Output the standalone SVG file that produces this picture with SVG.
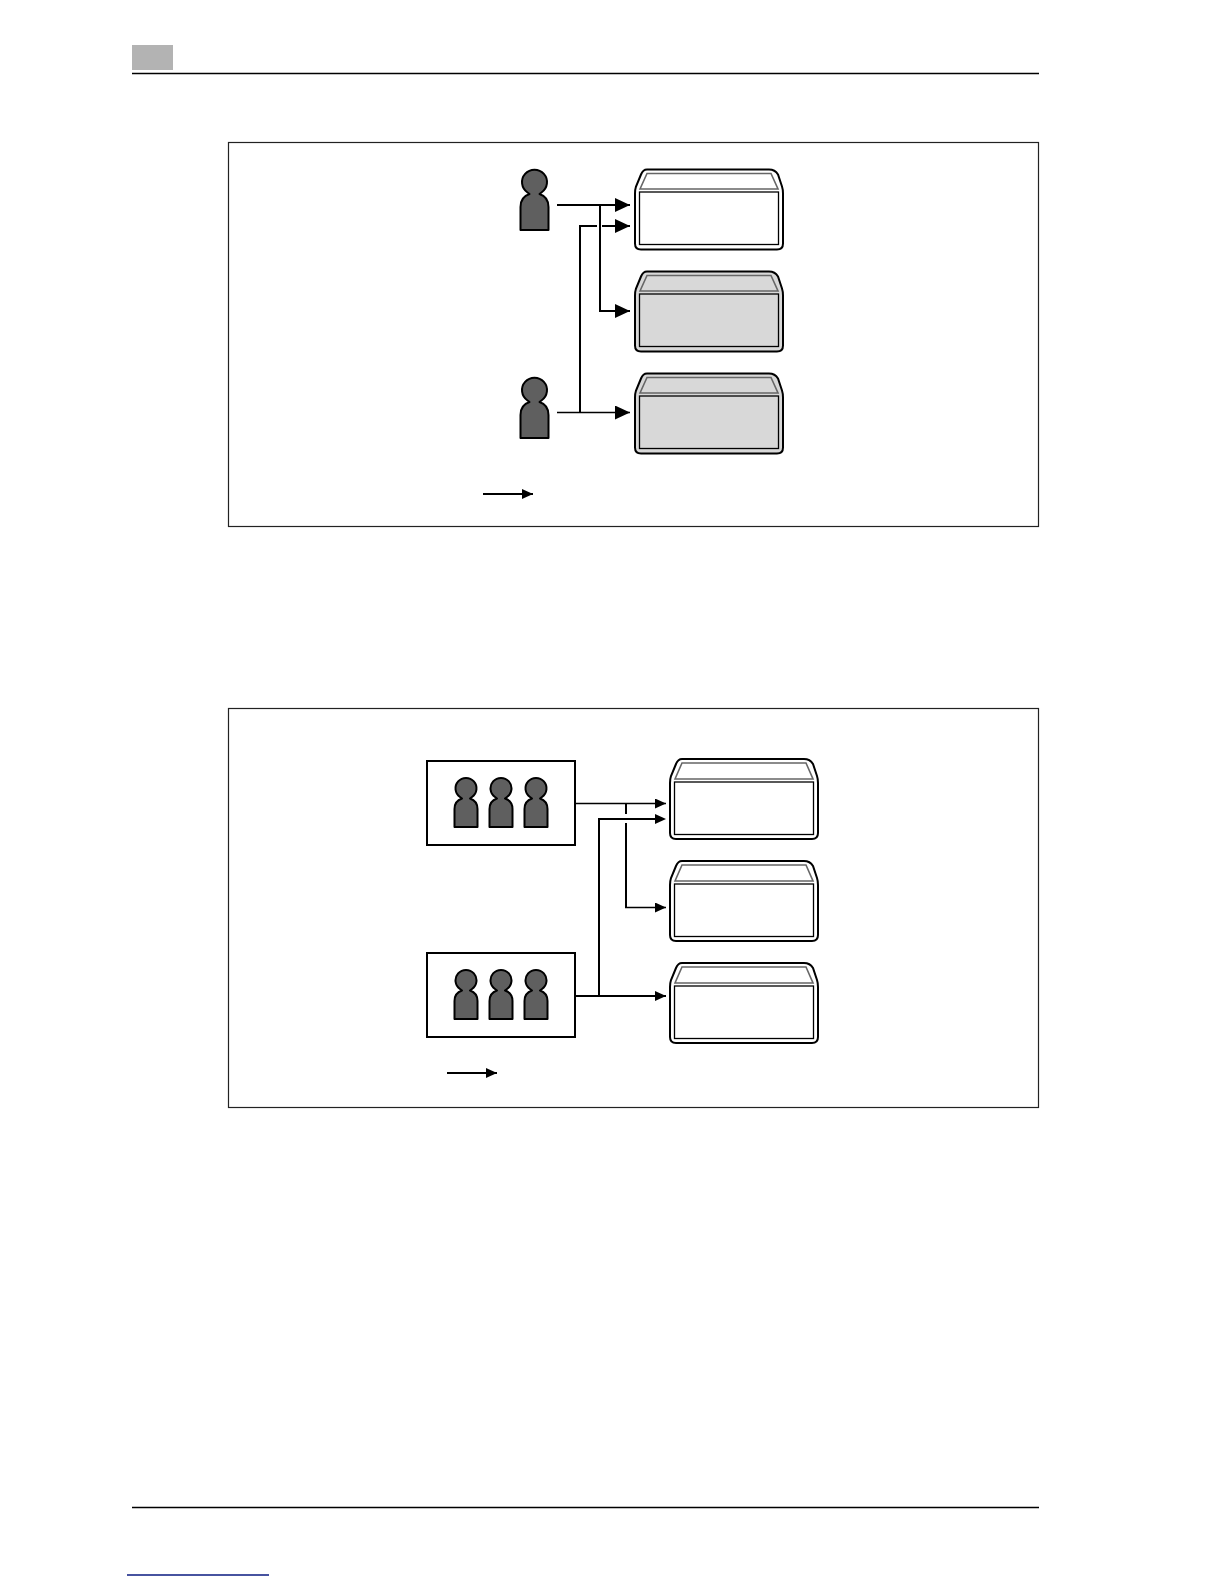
<svg xmlns="http://www.w3.org/2000/svg" width="1224" height="1584" viewBox="0 0 1224 1584">
<style>
.frame{fill:#fff;stroke:#222;stroke-width:1.2}
.rule{stroke:#000;stroke-width:1.4;fill:none}
.person{fill:#5f5f5f;stroke:#000;stroke-width:2;stroke-linejoin:round}
.shell{stroke:#000;stroke-width:2}
.lid{fill:none;stroke:#666;stroke-width:1.6}
.tray{stroke:#000;stroke-width:1.3}
.white{fill:#fff}
.grey{fill:#d8d8d8}
.c1{fill:none;stroke:#000;stroke-width:1.3}
.c2{fill:none;stroke:#000;stroke-width:2}
.group{fill:#fff;stroke:#000;stroke-width:2}
</style>
<defs>
<marker id="ah" markerUnits="userSpaceOnUse" markerWidth="15" markerHeight="14" refX="15" refY="7" orient="auto"><path d="M0 0L15 7L0 14Z" fill="#000"/></marker>
<marker id="as" markerUnits="userSpaceOnUse" markerWidth="11" markerHeight="10" refX="11" refY="5" orient="auto"><path d="M0 0L11 5L0 10Z" fill="#000"/></marker>
<g id="person-l"><path class="person" d="M-7 -37.500A12.500 12.500 0 1 1 7 -37.500Q5 -36 5 -36Q14 -33 14 -23V0H-14V-23Q-14 -33 -5 -36Q-5 -36 -7 -37.500Z"/></g>
<g id="person-s"><path class="person" d="M-6 -30A10.500 10.500 0 1 1 6 -30Q4 -28.500 4 -28.500Q11.500 -26 11.500 -18V0H-11.500V-18Q-11.500 -26 -4 -28.500Q-4 -28.500 -6 -30Z"/></g>
<path id="outer" d="M12 0H134Q140 0 143 5L147 17Q148 20 148 24V74Q148 80 142 80H6Q0 80 0 74V24Q0 20 1 17L6 5Q8 0 12 0Z"/>
</defs>
<rect x="132" y="45" width="41" height="25" fill="#b3b3b3"/>
<path class="rule" d="M132 73.500H1039M132 1507.500H1039"/>
<path d="M127 1575H269" stroke="#0a1a80" stroke-width="1.4"/>
<rect class="frame" x="228.500" y="142.500" width="810" height="384"/>
<rect class="frame" x="228.500" y="708.500" width="810" height="399"/>
<g id="person-1"><use href="#person-l" x="534.500" y="230"/></g>
<g id="person-2"><use href="#person-l" x="534.500" y="438"/></g>
<g id="box-1"><use href="#outer" x="635" y="169.500" class="shell white"/><path class="lid" d="M640 189L647 173.500H771L778 189Z"/><rect class="tray white" x="639.500" y="192" width="139" height="52.500"/></g>
<g id="box-2"><use href="#outer" x="635" y="271.500" class="shell grey"/><path class="lid" d="M640 291L647 275.500H771L778 291Z"/><rect class="tray grey" x="639.500" y="294" width="139" height="52.500"/></g>
<g id="box-3"><use href="#outer" x="635" y="373.500" class="shell grey"/><path class="lid" d="M640 393L647 377.500H771L778 393Z"/><rect class="tray grey" x="639.500" y="396" width="139" height="52.500"/></g>
<g id="group-1"><rect class="group" x="427" y="761" width="148" height="84"/><use href="#person-s" x="466" y="827"/><use href="#person-s" x="501" y="827"/><use href="#person-s" x="536" y="827"/></g>
<g id="group-2"><rect class="group" x="427" y="953" width="148" height="84"/><use href="#person-s" x="466" y="1019"/><use href="#person-s" x="501" y="1019"/><use href="#person-s" x="536" y="1019"/></g>
<g id="box-4"><use href="#outer" x="670" y="759" class="shell white"/><path class="lid" d="M675 779L682 763H806L813 779Z"/><rect class="tray white" x="674.500" y="782" width="139" height="52.500"/></g>
<g id="box-5"><use href="#outer" x="670" y="861" class="shell white"/><path class="lid" d="M675 881L682 865H806L813 881Z"/><rect class="tray white" x="674.500" y="884" width="139" height="52.500"/></g>
<g id="box-6"><use href="#outer" x="670" y="963" class="shell white"/><path class="lid" d="M675 983L682 967H806L813 983Z"/><rect class="tray white" x="674.500" y="986" width="139" height="52.500"/></g>
<g id="connectors">
<path class="c2" d="M557 205H630" marker-end="url(#ah)"/>
<path class="c2" d="M602 226H630" marker-end="url(#ah)"/>
<path class="c2" d="M597 226H580V412"/>
<path class="c2" d="M600 205V311H630" marker-end="url(#ah)"/>
<path class="c1" d="M557 412.500H630" marker-end="url(#ah)"/>
<path class="c2" d="M483 494H533" marker-end="url(#as)"/>
<path class="c1" d="M575 803.500H666" marker-end="url(#as)"/>
<path class="c2" d="M655 819H599V996"/>
<path d="M655 814L666 819L655 824Z" fill="#000"/>
<path class="c2" d="M575 996H666" marker-end="url(#as)"/>
<path class="c2" d="M626 803V814"/>
<path class="c2" d="M626 823V907"/>
<path class="c1" d="M625 907.500H666" marker-end="url(#as)"/>
<path class="c2" d="M447 1073H497" marker-end="url(#as)"/>
</g>
</svg>
